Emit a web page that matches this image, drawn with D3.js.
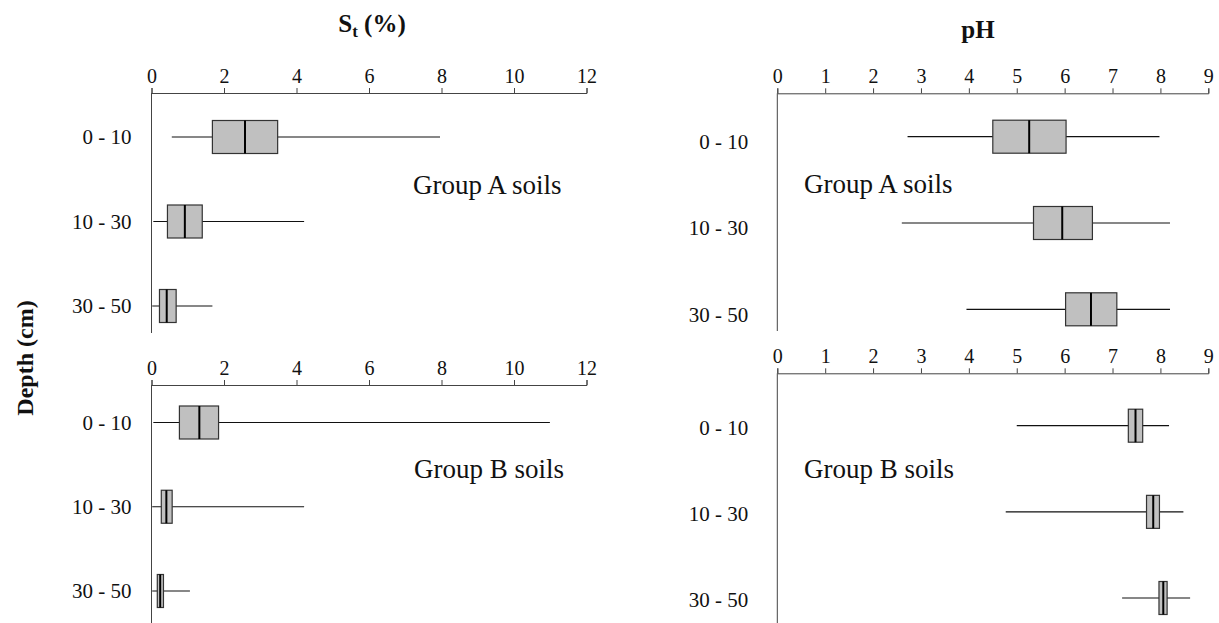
<html>
<script src='https://d3js.org/d3.v7.min.js'></script>
<style>
body {margin:0; background:#fff;}
svg text {font-family:'Liberation Serif','Times New Roman',serif; fill:#111;}
</style>
<body onload='init()'>
<svg width=1219 height=623></svg>
<script>
// depth classes
var depths = ['0 - 10', '10 - 30', '30 - 50'];

// St (%) ticks and box stats, group A
var stTicks = [0, 2, 4, 6, 8, 10, 12];
var stA_min = [0.56, 0.05, 0.02];
var stA_q1  = [1.68, 0.44, 0.22];
var stA_med = [2.58, 0.92, 0.42];
var stA_q3  = [3.48, 1.40, 0.68];
var stA_max = [7.96, 4.21, 1.68];

// St (%) group B
var stB_min = [0.05, 0.02, 0.02];
var stB_q1  = [0.77, 0.27, 0.16];
var stB_med = [1.32, 0.41, 0.24];
var stB_q3  = [1.85, 0.57, 0.33];
var stB_max = [10.99, 4.21, 1.06];

// pH ticks and box stats, group A
var phTicks = [0, 1, 2, 3, 4, 5, 6, 7, 8, 9];
var phA_min = [2.72, 2.60, 3.95];
var phA_q1  = [4.50, 5.35, 6.02];
var phA_med = [5.26, 5.95, 6.55];
var phA_q3  = [6.03, 6.58, 7.09];
var phA_max = [7.98, 8.20, 8.20];

// pH group B
var phB_min = [5.00, 4.77, 7.20];
var phB_q1  = [7.33, 7.71, 7.97];
var phB_med = [7.48, 7.85, 8.06];
var phB_q3  = [7.63, 7.98, 8.14];
var phB_max = [8.18, 8.48, 8.62];

var groupA = 'Group A soils', groupB = 'Group B soils';
var serif = "'Liberation Serif','Times New Roman',serif";

function rows(mn, q1, md, q3, mx) {
  return depths.map(function(d, i) {
    return {depth: d, min: mn[i], q1: q1[i], med: md[i], q3: q3[i], max: mx[i]};
  });
}

function panel(svg, p) {
  var xs = d3.scaleLinear().domain([0, p.ticks[p.ticks.length - 1]]).range(p.xr);
  var ys = d3.scalePoint().domain(depths).range(p.yr);
  var g = svg.append('g');
  var bh = 33;

  // top axis
  g.append('g')
    .attr('transform', 'translate(0,' + p.axisY + ')')
    .call(d3.axisTop(xs).tickValues(p.ticks).tickSize(5).tickPadding(5).tickSizeOuter(5))
    .call(function(a) {
      a.selectAll('path,line').attr('stroke', '#444');
      a.selectAll('text').style('font-family', serif).style('font-size', '20px');
    });

  // left vertical line
  g.append('line')
    .attr('x1', xs(0)).attr('x2', xs(0))
    .attr('y1', p.axisY).attr('y2', p.vBottom)
    .attr('stroke', '#444');

  // depth labels
  g.append('g')
    .attr('transform', 'translate(' + xs(0) + ',' + p.labDy + ')')
    .call(d3.axisLeft(ys).tickSize(0).tickPadding(p.labPad))
    .call(function(a) {
      a.select('.domain').remove();
      a.selectAll('text').style('font-family', serif).style('font-size', '21px');
    });

  var b = g.selectAll('.box').data(p.data).enter().append('g').attr('class', 'box');
  b.append('line')
    .attr('x1', function(d) { return xs(d.min); })
    .attr('x2', function(d) { return xs(d.max); })
    .attr('y1', function(d) { return ys(d.depth); })
    .attr('y2', function(d) { return ys(d.depth); })
    .attr('stroke', '#111').attr('stroke-width', 1.2);
  b.append('rect')
    .attr('x', function(d) { return xs(d.q1); })
    .attr('width', function(d) { return xs(d.q3) - xs(d.q1); })
    .attr('y', function(d) { return ys(d.depth) - bh / 2; })
    .attr('height', bh)
    .attr('fill', '#c0c0c0').attr('stroke', '#333').attr('stroke-width', 1.2);
  b.append('line')
    .attr('x1', function(d) { return xs(d.med); })
    .attr('x2', function(d) { return xs(d.med); })
    .attr('y1', function(d) { return ys(d.depth) - bh / 2; })
    .attr('y2', function(d) { return ys(d.depth) + bh / 2; })
    .attr('stroke', '#000').attr('stroke-width', 2);

  g.append('text')
    .attr('x', p.tx).attr('y', p.ty)
    .style('font-size', '27px')
    .text(p.label);
}

function init() {
  var svg = d3.select('svg');

  panel(svg, {ticks: stTicks, xr: [151.5, 586.5], axisY: 93, yr: [137, 306], vBottom: 333,
    labDy: 0, labPad: 20, tx: 413, ty: 194, label: groupA,
    data: rows(stA_min, stA_q1, stA_med, stA_q3, stA_max)});
  panel(svg, {ticks: stTicks, xr: [151.5, 586.5], axisY: 385, yr: [422.5, 591], vBottom: 623,
    labDy: 0, labPad: 20, tx: 414, ty: 478, label: groupB,
    data: rows(stB_min, stB_q1, stB_med, stB_q3, stB_max)});
  panel(svg, {ticks: phTicks, xr: [777.3, 1208.3], axisY: 93.3, yr: [136.7, 309.3], vBottom: 331,
    labDy: 5, labPad: 29, tx: 804, ty: 193, label: groupA,
    data: rows(phA_min, phA_q1, phA_med, phA_q3, phA_max)});
  panel(svg, {ticks: phTicks, xr: [777.3, 1208.3], axisY: 373.3, yr: [425.7, 598], vBottom: 623,
    labDy: 2, labPad: 29, tx: 804, ty: 478, label: groupB,
    data: rows(phB_min, phB_q1, phB_med, phB_q3, phB_max)});

  // titles
  var t = svg.append('text').attr('x', 372).attr('y', 32)
    .attr('text-anchor', 'middle').style('font-size', '25px').style('font-weight', 'bold');
  t.append('tspan').text('S');
  t.append('tspan').attr('dy', 5).style('font-size', '17px').text('t');
  t.append('tspan').attr('dy', -5).text(' (%)');

  svg.append('text').attr('x', 978).attr('y', 38)
    .attr('text-anchor', 'middle').style('font-size', '25px').style('font-weight', 'bold')
    .text('pH');

  svg.append('text')
    .attr('transform', 'translate(33,358) rotate(-90)')
    .attr('text-anchor', 'middle').style('font-size', '24px').style('font-weight', 'bold')
    .text('Depth (cm)');
}
</script>
</body>
</html>
